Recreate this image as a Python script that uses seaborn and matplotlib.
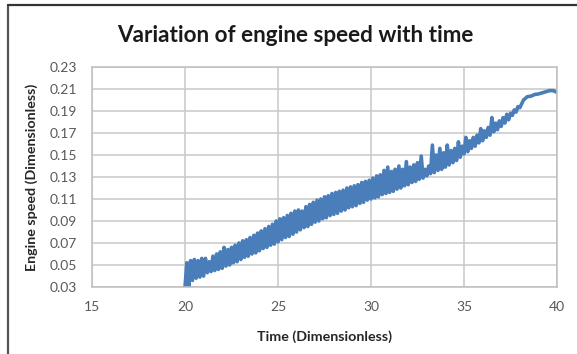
import matplotlib
matplotlib.use("Agg")
import matplotlib.pyplot as plt
from matplotlib.lines import Line2D
import seaborn as sns
import pandas as pd

# ---- data ----
time = [
    20.0, 20.1, 20.2, 20.3, 20.4, 20.5, 20.6, 20.7, 20.8, 20.9,
    21.0, 21.1, 21.2, 21.3, 21.4, 21.5, 21.6, 21.7, 21.8, 21.9,
    22.0, 22.1, 22.2, 22.3, 22.4, 22.5, 22.6, 22.7, 22.8, 22.9,
    23.0, 23.1, 23.2, 23.3, 23.4, 23.5, 23.6, 23.7, 23.8, 23.9,
    24.0, 24.1, 24.2, 24.3, 24.4, 24.5, 24.6, 24.7, 24.8, 24.9,
    25.0, 25.1, 25.2, 25.3, 25.4, 25.5, 25.6, 25.7, 25.8, 25.9,
    26.0, 26.1, 26.2, 26.3, 26.4, 26.5, 26.6, 26.7, 26.8, 26.9,
    27.0, 27.1, 27.2, 27.3, 27.4, 27.5, 27.6, 27.7, 27.8, 27.9,
    28.0, 28.1, 28.2, 28.3, 28.4, 28.5, 28.6, 28.7, 28.8, 28.9,
    29.0, 29.1, 29.2, 29.3, 29.4, 29.5, 29.6, 29.7, 29.8, 29.9,
    30.0, 30.1, 30.2, 30.3, 30.4, 30.5, 30.6, 30.7, 30.8, 30.9,
    31.0, 31.1, 31.2, 31.3, 31.4, 31.5, 31.6, 31.7, 31.8, 31.9,
    32.0, 32.1, 32.2, 32.3, 32.4, 32.5, 32.6, 32.7, 32.8, 32.9,
    33.0, 33.1, 33.2, 33.3, 33.4, 33.5, 33.6, 33.7, 33.8, 33.9,
    34.0, 34.1, 34.2, 34.3, 34.4, 34.5, 34.6, 34.7, 34.8, 34.9,
    35.0, 35.1, 35.2, 35.3, 35.4, 35.5, 35.6, 35.7, 35.8, 35.9,
    36.0, 36.1, 36.2, 36.3, 36.4, 36.5, 36.6, 36.7, 36.8, 36.9,
    37.0, 37.1, 37.2, 37.3, 37.4, 37.5, 37.6, 37.7, 37.8, 37.9,
    38.0, 38.2, 38.4, 38.6, 38.8, 39.0, 39.2, 39.4, 39.6, 39.8,
    40.0,
]
engine_speed = [
    0.030, 0.052, 0.030, 0.054, 0.036, 0.055, 0.038, 0.054, 0.039, 0.056,
    0.040, 0.056, 0.043, 0.053, 0.044, 0.058, 0.045, 0.060, 0.046, 0.062,
    0.047, 0.066, 0.049, 0.064, 0.050, 0.066, 0.052, 0.068, 0.053, 0.070,
    0.055, 0.072, 0.057, 0.073, 0.058, 0.075, 0.060, 0.077, 0.061, 0.079,
    0.063, 0.081, 0.065, 0.083, 0.066, 0.085, 0.068, 0.087, 0.069, 0.090,
    0.071, 0.092, 0.073, 0.093, 0.075, 0.095, 0.076, 0.097, 0.078, 0.099,
    0.080, 0.100, 0.082, 0.099, 0.084, 0.103, 0.085, 0.105, 0.087, 0.107,
    0.089, 0.109, 0.090, 0.110, 0.092, 0.112, 0.093, 0.113, 0.095, 0.115,
    0.096, 0.116, 0.097, 0.117, 0.099, 0.118, 0.100, 0.120, 0.102, 0.121,
    0.103, 0.122, 0.104, 0.123, 0.106, 0.125, 0.107, 0.126, 0.109, 0.127,
    0.110, 0.129, 0.111, 0.131, 0.112, 0.132, 0.114, 0.136, 0.115, 0.139,
    0.116, 0.135, 0.117, 0.137, 0.119, 0.140, 0.120, 0.137, 0.122, 0.144,
    0.123, 0.139, 0.125, 0.141, 0.126, 0.143, 0.128, 0.149, 0.129, 0.137,
    0.131, 0.140, 0.133, 0.159, 0.134, 0.150, 0.136, 0.156, 0.137, 0.152,
    0.139, 0.159, 0.141, 0.154, 0.143, 0.156, 0.145, 0.162, 0.148, 0.158,
    0.151, 0.166, 0.153, 0.163, 0.156, 0.166, 0.158, 0.168, 0.161, 0.174,
    0.163, 0.172, 0.166, 0.175, 0.168, 0.184, 0.171, 0.179, 0.173, 0.181,
    0.176, 0.184, 0.179, 0.187, 0.182, 0.188, 0.186, 0.191, 0.189, 0.194,
    0.193, 0.200, 0.203, 0.2035, 0.205, 0.2055, 0.2065, 0.2075, 0.2085, 0.2085,
    0.2070,
]
x_ticks = [15, 20, 25, 30, 35, 40]
y_ticks = [0.03, 0.05, 0.07, 0.09, 0.11, 0.13, 0.15, 0.17, 0.19, 0.21, 0.23]
y_tick_labels = ["0.03", "0.05", "0.07", "0.09", "0.11", "0.13",
                 "0.15", "0.17", "0.19", "0.21", "0.23"]

df = pd.DataFrame({"Time": time, "Speed": engine_speed})

sns.set_theme(style="white")
plt.rcParams["font.family"] = ["Lato", "DejaVu Sans"]
plt.rcParams["path.simplify"] = False

fig = plt.figure(figsize=(5.77, 3.54), dpi=100)
ax = fig.add_axes([92 / 577, 1 - 287 / 354, 465 / 577, 220 / 354])

sns.lineplot(data=df, x="Time", y="Speed", ax=ax, sort=False,
             estimator=None, color="#4a7ebb", linewidth=2.6)
for ln in ax.get_lines():
    ln.set_solid_joinstyle("round")

ax.set_xlim(15, 40)
ax.set_ylim(0.03, 0.23)
ax.set_xticks(x_ticks)
ax.set_yticks(y_ticks)
ax.set_yticklabels(y_tick_labels)
ax.grid(True, color="#c8c8c8", linewidth=1.1)
ax.set_axisbelow(True)
for s in ax.spines.values():
    s.set_color("#bfbfbf")
    s.set_linewidth(1.1)
ax.tick_params(axis="both", length=0, labelsize=10, labelcolor="#595959")
ax.tick_params(axis="x", pad=10)
ax.tick_params(axis="y", pad=11)

ax.set_xlabel("Time (Dimensionless)", fontsize=10.3, fontweight="bold",
              color="#262626")
ax.set_ylabel("Engine speed (Dimensionless)", fontsize=10.3, fontweight="bold",
              color="#262626")
ax.xaxis.set_label_coords(0.5, -0.195)
ax.yaxis.set_label_coords(-0.116, 0.5)

fig.text(295 / 577, 1 - 35 / 354, "Variation of engine speed with time",
         ha="center", va="center", fontsize=16.2, fontweight="bold",
         color="#1a1a1a")

# chart-area border (top and left visible in the reference)
fig.add_artist(Line2D([8 / 577, 8 / 577], [0, 1 - 5 / 354],
                      transform=fig.transFigure, color="#555555", lw=1.6))
fig.add_artist(Line2D([8 / 577, 1], [1 - 5 / 354, 1 - 5 / 354],
                      transform=fig.transFigure, color="#333333", lw=1.6))

fig.savefig("out.png", dpi=100)
